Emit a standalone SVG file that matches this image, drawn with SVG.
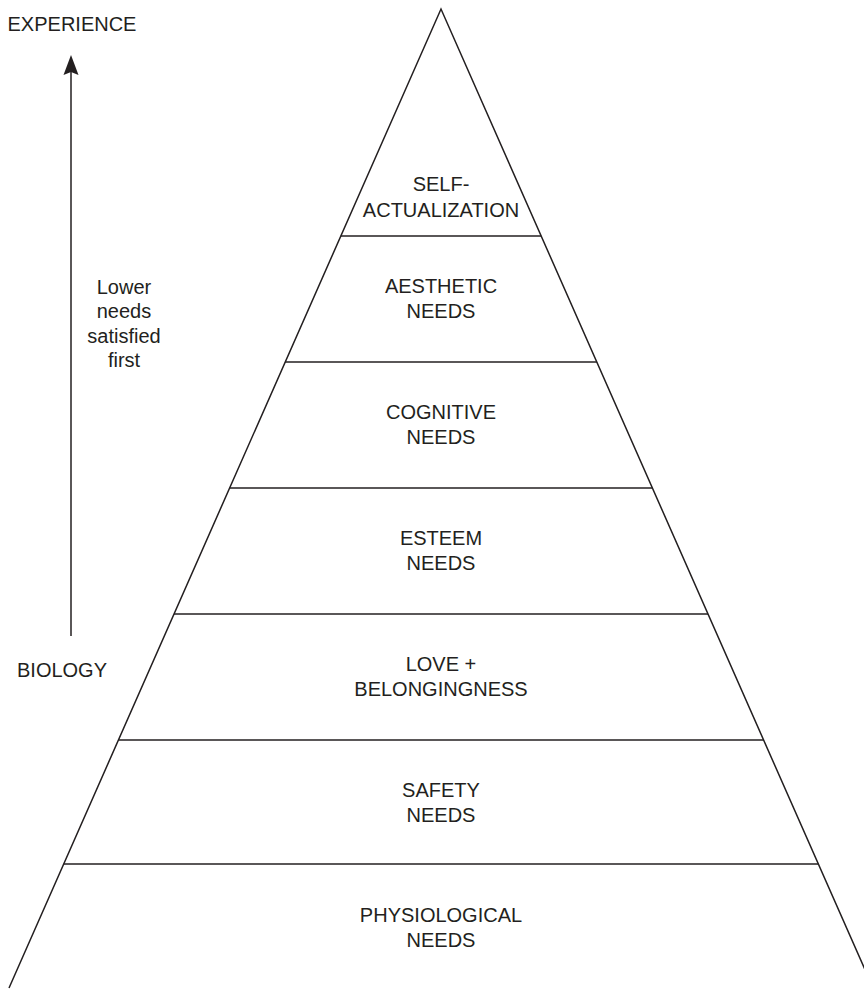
<svg xmlns="http://www.w3.org/2000/svg" width="864" height="989" viewBox="0 0 864 989">
<defs>
<style>
.t{font-family:"Liberation Sans",Arial,Helvetica,sans-serif;font-size:20px;fill:#231f20;text-anchor:middle}
.ln{stroke:#231f20;stroke-width:1.5;fill:none}
.ah{fill:#231f20}
</style>
</defs>
<rect width="864" height="989" fill="#ffffff"/>
<g id="pyramid">
<polyline class="ln" points="9,988 441,9 873.5,989"/>
<line class="ln" x1="340.8" y1="236" x2="541.2" y2="236"/>
<line class="ln" x1="285.2" y1="362" x2="596.8" y2="362"/>
<line class="ln" x1="229.6" y1="488" x2="652.4" y2="488"/>
<line class="ln" x1="174" y1="614" x2="708" y2="614"/>
<line class="ln" x1="118.4" y1="740" x2="763.6" y2="740"/>
<line class="ln" x1="63.7" y1="864" x2="818.3" y2="864"/>
</g>
<g id="self-actualization"><text class="t" x="441" y="191">SELF-</text><text class="t" x="441" y="217">ACTUALIZATION</text></g>
<g id="aesthetic"><text class="t" x="441" y="293">AESTHETIC</text><text class="t" x="441" y="318">NEEDS</text></g>
<g id="cognitive"><text class="t" x="441" y="419">COGNITIVE</text><text class="t" x="441" y="444">NEEDS</text></g>
<g id="esteem"><text class="t" x="441" y="545">ESTEEM</text><text class="t" x="441" y="570">NEEDS</text></g>
<g id="love"><text class="t" x="441" y="671">LOVE +</text><text class="t" x="441" y="696">BELONGINGNESS</text></g>
<g id="safety"><text class="t" x="441" y="797">SAFETY</text><text class="t" x="441" y="822">NEEDS</text></g>
<g id="physiological"><text class="t" x="441" y="922">PHYSIOLOGICAL</text><text class="t" x="441" y="947">NEEDS</text></g>
<g id="experience"><text class="t" x="72" y="31">EXPERIENCE</text></g>
<g id="biology"><text class="t" x="62" y="677">BIOLOGY</text></g>
<g id="lower-needs"><text class="t" x="124" y="294">Lower</text><text class="t" x="124" y="318">needs</text><text class="t" x="124" y="343">satisfied</text><text class="t" x="124" y="367">first</text></g>
<g id="connectors">
<line class="ln" x1="71" y1="636" x2="71" y2="70"/>
<polygon class="ah" points="71,55 78.5,75 71,72 63.5,75"/>
</g>
</svg>
